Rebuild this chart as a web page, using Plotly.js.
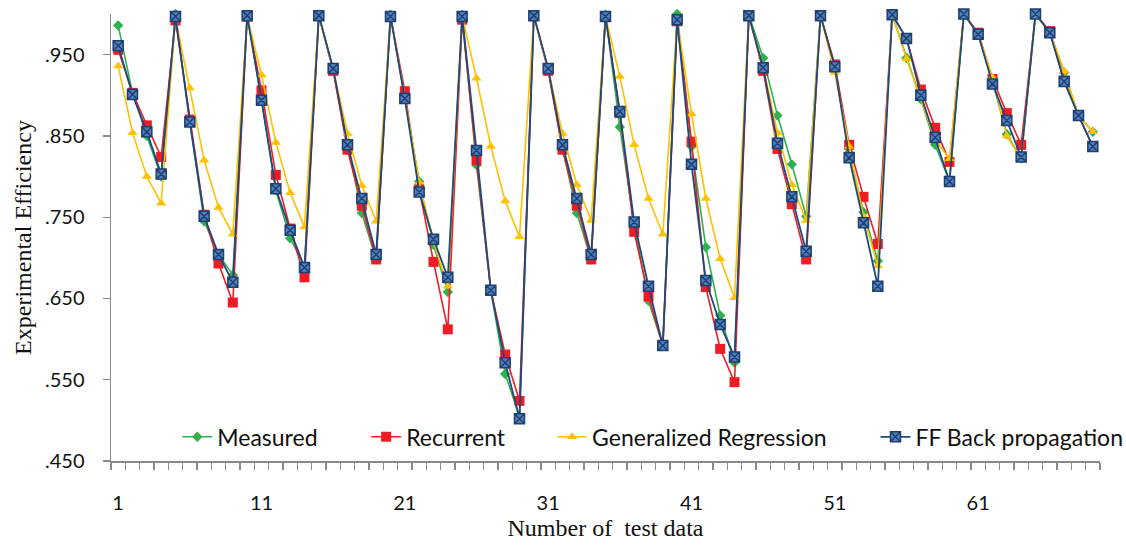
<!DOCTYPE html>
<html>
<head>
<meta charset="utf-8">
<script src="https://cdn.plot.ly/plotly-3.0.1.min.js"></script>
<style>html,body{margin:0;padding:0;background:#fff;}#chart{width:1126px;height:547px;}</style>
</head>
<body>
<div id="chart"></div>
<script>
// Data
var testIndex = [];
for (var i = 1; i <= 69; i++) testIndex.push(i);

var measured = [0.986,0.903,0.850,0.800,1.000,0.868,0.745,0.704,0.679,0.999,
  0.894,0.783,0.724,0.690,0.999,0.932,0.840,0.755,0.698,0.999,
  0.896,0.794,0.716,0.658,0.999,0.814,0.660,0.557,0.505,0.999,
  0.932,0.835,0.755,0.698,0.999,0.861,0.740,0.647,0.592,1.000,
  0.837,0.713,0.629,0.571,0.999,0.946,0.875,0.815,0.751,0.999,
  0.935,0.830,0.756,0.696,0.999,0.946,0.895,0.839,0.794,1.000,
  0.975,0.917,0.852,0.822,1.000,0.978,0.928,0.875,0.855];

var recurrent = [0.956,0.903,0.863,0.824,0.992,0.870,0.753,0.693,0.645,0.997,
  0.906,0.802,0.736,0.676,0.998,0.930,0.833,0.764,0.698,0.997,
  0.905,0.785,0.695,0.612,0.993,0.820,0.660,0.581,0.524,0.998,
  0.930,0.833,0.764,0.698,0.997,0.878,0.732,0.653,0.592,0.991,
  0.843,0.664,0.588,0.547,0.998,0.930,0.834,0.766,0.698,0.998,
  0.938,0.839,0.775,0.717,0.999,0.970,0.907,0.860,0.818,1.000,
  0.977,0.920,0.878,0.839,1.000,0.979,0.918,0.875,0.837];

var generalized = [0.936,0.854,0.800,0.767,0.995,0.909,0.820,0.762,0.729,0.997,
  0.925,0.842,0.780,0.738,0.998,0.932,0.853,0.789,0.745,0.997,
  0.898,0.793,0.719,0.665,0.997,0.921,0.837,0.770,0.726,0.998,
  0.932,0.853,0.790,0.746,0.997,0.923,0.839,0.773,0.729,0.993,
  0.877,0.773,0.699,0.651,0.998,0.935,0.854,0.790,0.746,0.998,
  0.928,0.837,0.751,0.690,0.999,0.945,0.896,0.845,0.822,1.000,
  0.975,0.922,0.850,0.822,1.000,0.977,0.930,0.875,0.855];

var ffBackprop = [0.961,0.901,0.855,0.803,0.997,0.867,0.751,0.704,0.670,0.998,
  0.894,0.785,0.734,0.688,0.998,0.933,0.839,0.773,0.704,0.997,
  0.896,0.781,0.723,0.676,0.997,0.832,0.660,0.571,0.502,0.998,
  0.933,0.839,0.773,0.704,0.997,0.880,0.744,0.665,0.592,0.993,
  0.815,0.672,0.618,0.578,0.998,0.934,0.841,0.775,0.708,0.998,
  0.935,0.823,0.743,0.665,0.999,0.970,0.900,0.848,0.794,1.000,
  0.975,0.914,0.869,0.824,1.000,0.977,0.917,0.875,0.837];

var xTickVals = [1, 11, 21, 31, 41, 51, 61];
var xTickText = ['1', '11', '21', '31', '41', '51', '61'];
var yTickVals = [0.45, 0.55, 0.65, 0.75, 0.85, 0.95];
var yTickText = ['.450', '.550', '.650', '.750', '.850', '.950'];

var seriesNames = ['Measured', 'Recurrent', 'Generalized Regression', 'FF Back propagation'];

var uiFont = 'Lato, "Open Sans", sans-serif';
var serifFont = '"Liberation Serif", "Times New Roman", serif';

var traces = [
  {x: testIndex, y: measured, name: seriesNames[0], type: 'scatter', mode: 'lines+markers',
   line: {color: '#2bb24c', width: 1.6}, marker: {symbol: 'diamond', size: 8, color: '#2bb24c'},
   cliponaxis: false, legend: 'legend'},
  {x: testIndex, y: recurrent, name: seriesNames[1], type: 'scatter', mode: 'lines+markers',
   line: {color: '#ee1c25', width: 1.6}, marker: {symbol: 'square', size: 10, color: '#ee1c25'},
   cliponaxis: false, legend: 'legend2'},
  {x: testIndex, y: generalized, name: seriesNames[2], type: 'scatter', mode: 'lines+markers',
   line: {color: '#ffc000', width: 1.6}, marker: {symbol: 'triangle-up', size: 9, color: '#ffc000'},
   cliponaxis: false, legend: 'legend3'},
  {x: testIndex, y: ffBackprop, name: seriesNames[3], type: 'scatter', mode: 'lines+markers',
   line: {color: '#1f497d', width: 1.8},
   marker: {symbol: 'square-x', size: 10, color: '#4f81bd', line: {color: '#1f3f70', width: 1.5}},
   cliponaxis: false, legend: 'legend4'}
];

function legendAt(xp) {
  return {x: xp, y: 0.054, xanchor: 'left', yanchor: 'middle', orientation: 'h',
    bgcolor: 'rgba(0,0,0,0)', font: {family: uiFont, size: 23, color: '#111'}};
}

var layout = {
  width: 1126, height: 547,
  margin: {l: 111, r: 26, t: 14, b: 86, autoexpand: false},
  paper_bgcolor: '#fff', plot_bgcolor: '#fff',
  showlegend: true,
  legend: legendAt(0.067),
  legend2: legendAt(0.258),
  legend3: legendAt(0.446),
  legend4: legendAt(0.773),
  xaxis: {
    range: [0.5, 69.5], showgrid: false, zeroline: false,
    showline: true, linecolor: '#8a8a8a', linewidth: 1.5,
    tickmode: 'array', tickvals: xTickVals, ticktext: xTickText,
    ticks: '', ticklabelstandoff: 23,
    tickfont: {family: uiFont, size: 20, color: '#111'},
    minor: {tickmode: 'linear', tick0: 0.5, dtick: 1, ticks: 'outside', ticklen: 7,
            tickcolor: '#8a8a8a', tickwidth: 1.2, showgrid: false},
    title: {text: 'Number of  test data', font: {family: serifFont, size: 24, color: '#111'}, standoff: 6}
  },
  yaxis: {
    range: [0.45, 1.0], showgrid: false, zeroline: false,
    showline: true, linecolor: '#8a8a8a', linewidth: 1.5,
    tickmode: 'array', tickvals: yTickVals, ticktext: yTickText,
    ticks: 'outside', ticklen: 7, tickcolor: '#8a8a8a', tickwidth: 1.2,
    ticklabelstandoff: 14,
    tickfont: {family: uiFont, size: 20, color: '#111'},
    title: {text: 'Experimental Efficiency', font: {family: serifFont, size: 24, color: '#111'}, standoff: 6}
  }
};

Plotly.newPlot('chart', traces, layout, {displayModeBar: false, staticPlot: true});
</script>
</body>
</html>
